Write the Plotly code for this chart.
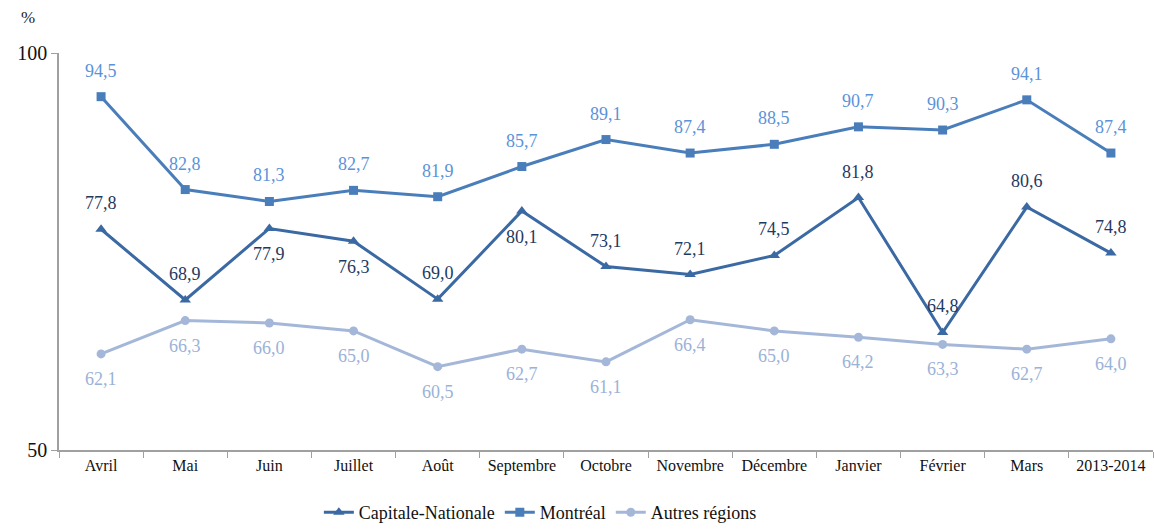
import plotly.graph_objects as go

categories = ["Avril", "Mai", "Juin", "Juillet", "Août", "Septembre", "Octobre",
              "Novembre", "Décembre", "Janvier", "Février", "Mars", "2013-2014"]
capitale = [77.8, 68.9, 77.9, 76.3, 69.0, 80.1, 73.1, 72.1, 74.5, 81.8, 64.8, 80.6, 74.8]
montreal = [94.5, 82.8, 81.3, 82.7, 81.9, 85.7, 89.1, 87.4, 88.5, 90.7, 90.3, 94.1, 87.4]
autres = [62.1, 66.3, 66.0, 65.0, 60.5, 62.7, 61.1, 66.4, 65.0, 64.2, 63.3, 62.7, 64.0]
# label placement for Capitale-Nationale: 1 above, -1 below
capitale_side = [1, 1, -1, -1, 1, -1, 1, 1, 1, 1, 1, 1, 1]

FONT = "Liberation Serif"


def fr(v):
    return f"{v:.1f}".replace(".", ",")


series = [
    ("Capitale-Nationale", capitale, "#3B69A3", "triangle-up", 10),
    ("Montréal", montreal, "#4A7EBB", "square", 9),
    ("Autres régions", autres, "#A4B7D9", "circle", 9),
]

fig = go.Figure()
for name, vals, color, sym, size in series:
    fig.add_trace(go.Scatter(
        x=categories, y=vals, name=name, mode="lines+markers",
        line=dict(color=color, width=3),
        marker=dict(symbol=sym, size=size, color=color),
    ))

annotations = []
for i, c in enumerate(categories):
    annotations.append(dict(x=c, y=capitale[i], text=fr(capitale[i]), showarrow=False,
                            yshift=26 * capitale_side[i], font=dict(color="#1F3A5F", size=18)))
    annotations.append(dict(x=c, y=montreal[i], text=fr(montreal[i]), showarrow=False,
                            yshift=26, font=dict(color="#5B93D9", size=18)))
    annotations.append(dict(x=c, y=autres[i], text=fr(autres[i]), showarrow=False,
                            yshift=-25, font=dict(color="#9AB2D8", size=18)))
annotations.append(dict(xref="paper", yref="paper", x=-0.028, y=1.06, xanchor="center",
                        yanchor="bottom", text="%", showarrow=False,
                        font=dict(size=17, color="#222")))

fig.update_layout(
    width=1154, height=531,
    paper_bgcolor="white", plot_bgcolor="white",
    font=dict(family=FONT, size=16, color="#111"),
    margin=dict(l=59, r=1, t=53, b=81, autoexpand=False),
    showlegend=True,
    legend=dict(orientation="h", x=0.44, xanchor="center", yref="container", y=0.0,
                yanchor="bottom", font=dict(size=18), traceorder="normal"),
    annotations=annotations,
)
fig.update_xaxes(showline=True, linecolor="#A0A0A0", linewidth=1.5, ticks="outside",
                 tickson="boundaries", ticklen=6, tickcolor="#A0A0A0", automargin=False,
                 showgrid=False, tickfont=dict(size=16), range=[-0.5, 12.5])
fig.update_yaxes(range=[50, 100], tickvals=[50, 100], showline=True, linecolor="#A0A0A0",
                 linewidth=1.5, ticks="outside", ticklen=6, tickcolor="#A0A0A0",
                 automargin=False, showgrid=False, zeroline=False, tickfont=dict(size=20))

fig.write_html("out.html", config={"displayModeBar": False},
               post_script="document.body.style.margin='0';document.body.style.overflow='hidden';")
